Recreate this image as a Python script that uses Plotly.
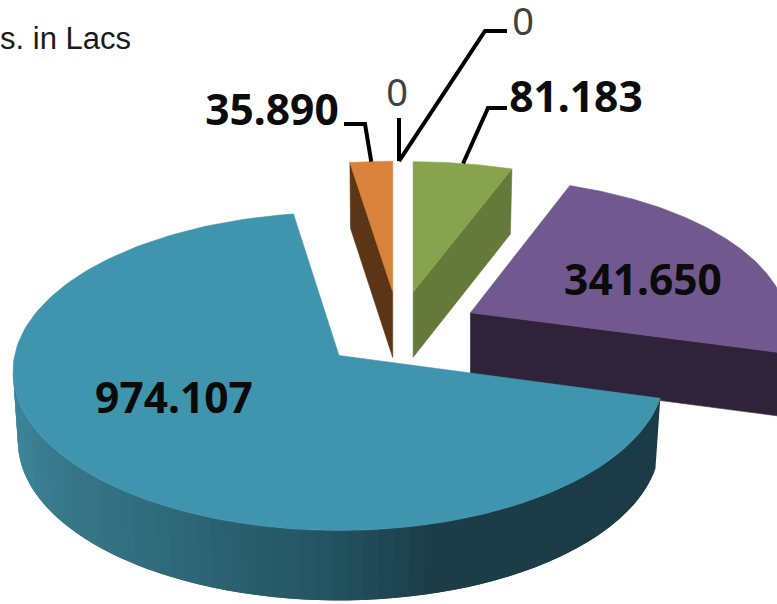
import numpy as np
import plotly.graph_objects as go

# ---- data ----
slice_names = ["Green", "Purple", "Teal", "Orange", "Zero A", "Zero B"]
slice_values = [81.183, 341.650, 974.107, 35.890, 0, 0]
value_labels = ["81.183", "341.650", "974.107", "35.890", "0", "0"]
unit_label = "Rs. in Lacs"

# ---- styles ----
top_colors = ["#87a34d", "#71588f", "#4095ae", "#d8823b"]
side_colors = ["#657a3a", "#2e2338", None, "#5c3516"]
wall_stops_x = [15, 60, 170, 340, 440, 700]
wall_stops_rgb = [(0x3e, 0x84, 0x99), (0x38, 0x78, 0x8b), (0x2f, 0x6a, 0x7a),
                  (0x23, 0x53, 0x60), (0x1c, 0x3d, 0x48), (0x1b, 0x3c, 0x47)]

# ---- projection model (pixel-scaled axes) ----
CX0, CY0 = 399, 330          # un-exploded pie centre
EX, EY = 80, 38.5            # explosion extent
RX, RY, OFF = 326, 159, 16   # ellipse radii, apex offset from ellipse centre
K = 0.89                     # perspective angle warp
WALL = 70                    # extrusion
BOTTOM_X = 0.985
# depth scaling per slice (perspective): green, purple, teal, orange, zero, zero
scale_x = [0.97, 0.975, 1.0, 0.94, 0.94, 0.94]
scale_y = [0.912, 0.941, 1.0, 0.912, 0.912, 0.912]
scale_w = [0.93, 0.90, 1.0, 0.94, 0.94, 0.94]


def warp(theta):
    return 2 * np.arctan2(K * np.sin(theta / 2), np.cos(theta / 2))


def apex(mid):
    return CX0 + EX * np.sin(mid), CY0 - EY * np.cos(mid)


def rim(theta, i, low=False):
    ax, ay = apex(mids[i])
    t = warp(theta)
    fx = BOTTOM_X if low else 1.0
    dy = scale_y[i] * (OFF - RY * np.cos(t)) + (scale_w[i] * WALL if low else 0)
    return ax + scale_x[i] * fx * RX * np.sin(t), ay + dy


def centre(i, low=False):
    ax, ay = apex(mids[i])
    return ax, ay + (scale_w[i] * WALL if low else 0)


vals = np.array(slice_values, dtype=float)
edges = np.concatenate([[0], np.cumsum(vals)]) / vals.sum() * 2 * np.pi
starts, ends = edges[:-1], edges[1:]
mids = (starts + ends) / 2

fig = go.Figure()


def poly(xs, ys, color, lw=0.6):
    fig.add_trace(go.Scatter(x=list(xs), y=list(ys), mode="lines", fill="toself",
                             fillcolor=color, line=dict(color=color, width=lw),
                             hoverinfo="skip", showlegend=False))


def radial_face(theta, i, color):
    ax, ay = centre(i)
    bx, by = centre(i, True)
    rx_, ry_ = rim(theta, i)
    sx_, sy_ = rim(theta, i, True)
    poly([ax, rx_, sx_, bx, ax], [ay, ry_, sy_, by, ay], color)


def top_face(i):
    th = np.linspace(starts[i], ends[i], 160)
    px, py = rim(th, i)
    ax, ay = centre(i)
    poly(np.r_[ax, px, ax], np.r_[ay, py, ay], top_colors[i])


def wall_color(x):
    c = [np.interp(x, wall_stops_x, [rgb[j] for rgb in wall_stops_rgb]) for j in range(3)]
    return "rgb(%d,%d,%d)" % tuple(int(round(v)) for v in c)


ORANGE, GREEN, PURPLE, TEAL = 3, 0, 1, 2

radial_face(starts[ORANGE], ORANGE, side_colors[ORANGE])
top_face(ORANGE)
radial_face(ends[GREEN], GREEN, side_colors[GREEN])
top_face(GREEN)
radial_face(ends[PURPLE], PURPLE, side_colors[PURPLE])
top_face(PURPLE)

# teal outer wall, shaded by horizontal position; each band overlaps the next to hide seams
th = np.linspace(starts[TEAL], ends[TEAL], 600)
th = th[warp(th) <= 1.5 * np.pi + 0.02]
th_r = th[::-1]                # paint from the left end towards the right end
step = 6
for a in range(0, len(th_r) - 1, step):
    seg = th_r[max(a - step, 0):a + step + 1][::-1]
    ux, uy = rim(seg, TEAL)
    lx, ly = rim(seg, TEAL, True)
    poly(np.r_[ux, lx[::-1], ux[0]], np.r_[uy, ly[::-1], uy[0]], wall_color(ux.mean()), lw=0)
top_face(TEAL)

# ---- leader lines ----
LINE_W = 4
leaders = {
    3: [(365, 124), (344, 124)],
    0: [(488, 108), (507, 108)],
    4: [(399, 118)],
    5: [(485, 31), (507, 31)],
}
for i, pts in leaders.items():
    sx_, sy_ = rim(np.array([mids[i]]), i)
    fig.add_trace(go.Scatter(x=[sx_[0]] + [p[0] for p in pts], y=[sy_[0]] + [p[1] for p in pts],
                             mode="lines", line=dict(color="#000000", width=LINE_W),
                             hoverinfo="skip", showlegend=False))

# ---- labels ----
label_pos = {0: (576, 101), 1: (643, 284), 2: (174, 402), 3: (272, 114), 4: (397, 96), 5: (523, 25)}
for i, (x, y) in label_pos.items():
    zero = vals[i] == 0
    fig.add_trace(go.Scatter(x=[x], y=[y], mode="text",
                             text=[("<b>%s</b>" % value_labels[i]) if not zero else value_labels[i]],
                             textposition="middle center",
                             textfont=dict(family="Noto Sans", size=38 if zero else 42.5,
                                           color="#404040" if zero else "#0b0b0b"),
                             hoverinfo="skip", showlegend=False))

fig.add_trace(go.Scatter(x=[131], y=[41], mode="text", text=[unit_label], textposition="middle left",
                         textfont=dict(family="Liberation Sans", size=31, color="#1a1a1a"),
                         hoverinfo="skip", showlegend=False))

fig.update_layout(width=777, height=604, margin=dict(l=0, r=0, t=0, b=0),
                  paper_bgcolor="white", plot_bgcolor="white", showlegend=False,
                  xaxis=dict(range=[0, 777], visible=False, fixedrange=True),
                  yaxis=dict(range=[604, 0], visible=False, fixedrange=True))

fig.write_html("out.html", config={"displayModeBar": False},
               post_script="document.body.style.margin='0';document.body.style.overflow='hidden';")
